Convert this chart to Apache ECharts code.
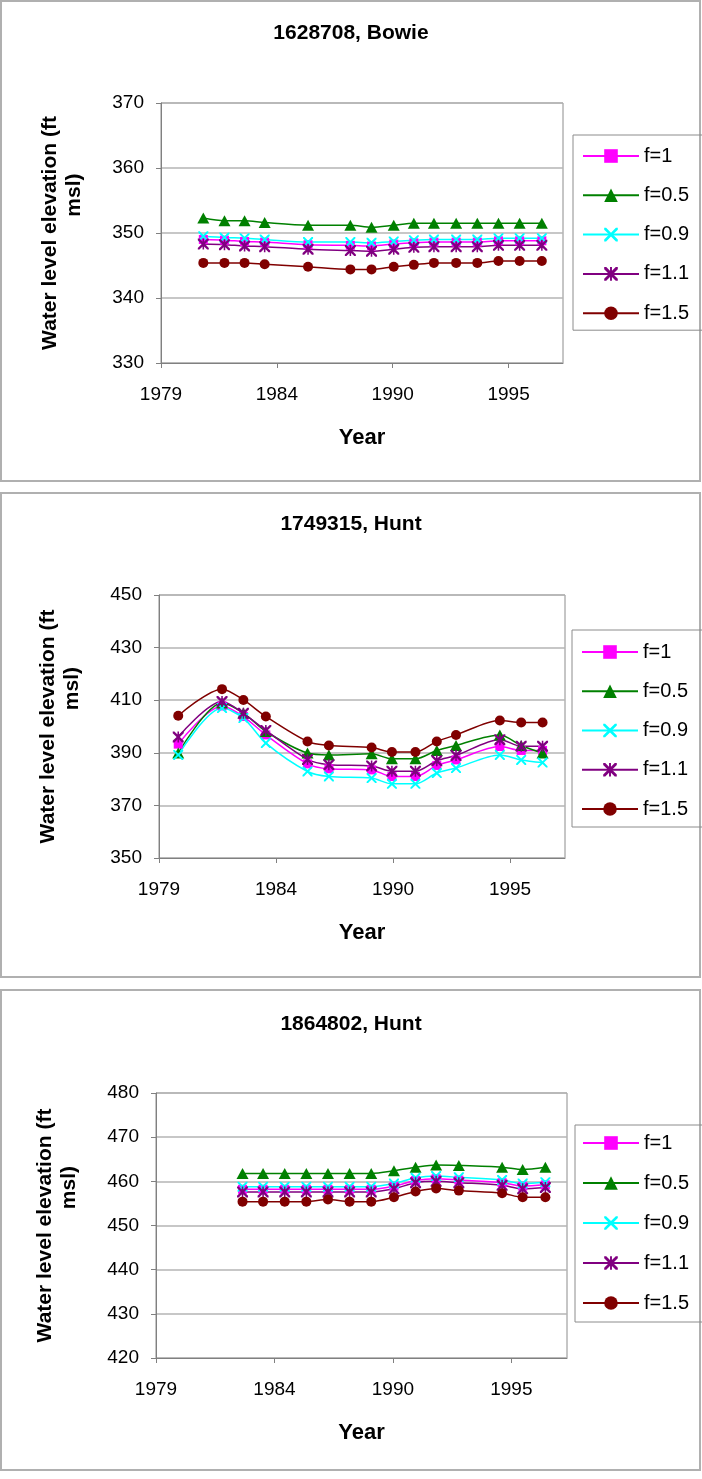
<!DOCTYPE html>
<html><head><meta charset="utf-8">
<script src="https://cdn.jsdelivr.net/npm/echarts@6.0.0/dist/echarts.min.js"></script>
<style>html,body{margin:0;padding:0;background:#fff}#c{width:702px;height:1479px}</style>
</head><body><div id="c"></div>
<script>
// ---------- data ----------
const seriesNames = ['f=1', 'f=0.5', 'f=0.9', 'f=1.1', 'f=1.5'];
const tickYears = [1979.5, 1984.976, 1990.452, 1995.927];
const tickLabels = ['1979', '1984', '1990', '1995'];
const xTitle = 'Year';
const yTitle = 'Water level elevation (ft';
const yTitle2 = 'msl)';

// Chart 1: 1628708, Bowie
const title1 = '1628708, Bowie';
const years1 = [1981.5, 1982.5, 1983.45, 1984.4, 1986.45, 1988.45, 1989.45, 1990.5, 1991.45, 1992.4, 1993.45, 1994.45, 1995.45, 1996.45, 1997.5];
const c1_f1  = [349.0, 348.9, 348.7, 348.6, 348.2, 348.1, 348.0, 348.3, 348.5, 348.6, 348.6, 348.6, 348.8, 348.8, 348.8];
const c1_f05 = [352.3, 351.9, 351.9, 351.6, 351.2, 351.2, 350.9, 351.2, 351.5, 351.5, 351.5, 351.5, 351.5, 351.5, 351.5];
const c1_f09 = [349.5, 349.3, 349.2, 349.0, 348.6, 348.6, 348.5, 348.7, 348.9, 349.0, 349.0, 349.0, 349.2, 349.2, 349.2];
const c1_f11 = [348.3, 348.2, 348.0, 347.9, 347.5, 347.3, 347.2, 347.5, 347.8, 347.9, 347.9, 347.9, 348.1, 348.1, 348.1];
const c1_f15 = [345.4, 345.4, 345.4, 345.2, 344.8, 344.4, 344.4, 344.8, 345.1, 345.4, 345.4, 345.4, 345.7, 345.7, 345.7];

// Chart 2: 1749315, Hunt
const title2 = '1749315, Hunt';
const years2 = [1980.4, 1982.45, 1983.45, 1984.5, 1986.45, 1987.45, 1989.45, 1990.4, 1991.5, 1992.5, 1993.4, 1995.45, 1996.45, 1997.45];
const c2_f1  = [393.3, 407.8, 403.8, 396.8, 385.8, 383.9, 383.5, 381.0, 381.0, 385.2, 387.3, 392.4, 390.9, 390.9];
const c2_f05 = [389.9, 408.9, 405.1, 398.1, 389.9, 389.2, 389.6, 387.7, 387.7, 390.9, 392.8, 396.8, 392.8, 389.9];
const c2_f09 = [389.2, 407.0, 403.2, 393.7, 382.9, 381.0, 380.4, 378.2, 378.2, 382.3, 384.2, 389.2, 387.3, 386.3];
const c2_f11 = [396.0, 409.5, 405.0, 398.5, 387.5, 385.5, 385.0, 383.0, 383.0, 387.0, 389.0, 395.0, 392.5, 392.5];
const c2_f15 = [404.1, 414.2, 410.1, 403.8, 394.3, 392.8, 392.0, 390.3, 390.3, 394.3, 396.8, 402.3, 401.5, 401.5];

// Chart 3: 1864802, Hunt
const title3 = '1864802, Hunt';
const years3 = [1983.5, 1984.45, 1985.45, 1986.45, 1987.45, 1988.45, 1989.45, 1990.5, 1991.5, 1992.45, 1993.5, 1995.5, 1996.45, 1997.5];
const c3_f1  = [458.2, 458.2, 458.2, 458.2, 458.2, 458.2, 458.2, 458.9, 460.2, 460.6, 460.3, 459.7, 458.9, 459.2];
const c3_f05 = [461.8, 461.8, 461.8, 461.8, 461.8, 461.8, 461.8, 462.4, 463.2, 463.7, 463.6, 463.2, 462.7, 463.2];
const c3_f09 = [458.8, 458.8, 458.8, 458.8, 458.8, 458.8, 458.8, 459.5, 460.8, 461.2, 460.9, 460.3, 459.5, 459.8];
const c3_f11 = [457.6, 457.6, 457.6, 457.6, 457.6, 457.6, 457.6, 458.3, 459.7, 460.0, 459.7, 459.1, 458.3, 458.6];
const c3_f15 = [455.4, 455.4, 455.4, 455.4, 455.9, 455.4, 455.4, 456.4, 457.7, 458.4, 457.9, 457.3, 456.4, 456.4];

const yRanges = [[330, 370, 10], [350, 450, 20], [420, 480, 10]];
const xRange = [1979.5, 1998.5];

// ---------- styles / layout ----------
const FONT = '"Liberation Sans", Arial, sans-serif';
const X_PATH = 'path://M0,0 L1.4,0 L5,3.6 L8.6,0 L10,0 L10,1.4 L6.4,5 L10,8.6 L10,10 L8.6,10 L5,6.4 L1.4,10 L0,10 L0,8.6 L3.6,5 L0,1.4 Z';
const STAR_PATH = 'path://M0,0 L1.5,0 L5,3.5 L8.5,0 L10,0 L10,1.5 L6.5,5 L10,8.5 L10,10 L8.5,10 L5,6.5 L1.5,10 L0,10 L0,8.5 L3.5,5 L0,1.5 Z M4.3,0 L5.7,0 L5.7,10 L4.3,10 Z';
const styles = [
  {color: '#FF00FF', symbol: 'rect', size: 9},
  {color: '#008000', symbol: 'triangle', size: [12, 11]},
  {color: '#00FFFF', symbol: X_PATH, size: 10},
  {color: '#800080', symbol: STAR_PATH, size: 11},
  {color: '#800000', symbol: 'circle', size: 10}
];
const grids = [
  {left: 161, top: 103, width: 402, height: 260},
  {left: 159, top: 595, width: 406, height: 263},
  {left: 156, top: 1093, width: 411, height: 265}
];
const titleTops = [18, 509, 1009];
const legendPos = [
  {left: 573, top: 135, gap: 19.3, padding: [11, 40, 7, 9]},
  {left: 572, top: 630, gap: 19.25, padding: [12, 40, 8, 9]},
  {left: 575, top: 1125, gap: 20, padding: [8, 40, 9, 7]}
];
const panels = [[1, 1, 699, 480], [1, 493, 699, 484], [1, 990, 699, 480]];

const chartData = [
  {title: title1, years: years1, vals: [c1_f1, c1_f05, c1_f09, c1_f11, c1_f15]},
  {title: title2, years: years2, vals: [c2_f1, c2_f05, c2_f09, c2_f11, c2_f15]},
  {title: title3, years: years3, vals: [c3_f1, c3_f05, c3_f09, c3_f11, c3_f15]}
];

const option = {
  backgroundColor: '#fff',
  animation: false,
  textStyle: {fontFamily: FONT},
  title: [], grid: [], xAxis: [], yAxis: [], legend: [], series: [],
  graphic: panels.map(p => ({
    type: 'rect', z: -10, silent: true,
    shape: {x: p[0], y: p[1], width: p[2], height: p[3]},
    style: {fill: 'none', stroke: '#b0b0b0', lineWidth: 2}
  }))
};

chartData.forEach((cd, k) => {
  option.title.push({
    text: cd.title, left: 'center', top: titleTops[k],
    textStyle: {fontFamily: FONT, fontSize: 21, fontWeight: 'bold', color: '#000'}
  });
  option.grid.push(Object.assign({show: true, borderColor: '#8c8c8c', borderWidth: 1, backgroundColor: 'transparent'}, grids[k]));
  option.xAxis.push({
    type: 'value', gridIndex: k, min: xRange[0], max: xRange[1],
    name: xTitle, nameLocation: 'middle', nameGap: 64,
    nameTextStyle: {fontFamily: FONT, fontSize: 22, fontWeight: 'bold', color: '#000'},
    axisLine: {show: true, lineStyle: {color: '#808080', width: 1}},
    axisTick: {show: true, length: 5, lineStyle: {color: '#808080'}, customValues: tickYears},
    axisLabel: {
      show: true, margin: 22, fontFamily: FONT, fontSize: 19, color: '#000',
      customValues: tickYears,
      formatter: (v) => tickLabels[tickYears.findIndex(t => Math.abs(t - v) < 0.01)] || ''
    },
    splitLine: {show: false}
  });
  option.yAxis.push({
    type: 'value', gridIndex: k, min: yRanges[k][0], max: yRanges[k][1], interval: yRanges[k][2],
    name: yTitle + '\n' + '             ' + yTitle2, nameLocation: 'middle', nameGap: 75, nameRotate: 90,
    nameTextStyle: {fontFamily: FONT, fontSize: 21, fontWeight: 'bold', color: '#000', lineHeight: 24},
    axisLine: {show: true, lineStyle: {color: '#808080', width: 1}},
    axisTick: {show: true, length: 5, lineStyle: {color: '#808080'}},
    axisLabel: {margin: 17, fontFamily: FONT, fontSize: 19, color: '#000'},
    splitLine: {show: true, lineStyle: {color: '#b4b4b4', width: 1.5}}
  });
  const lp = legendPos[k];
  option.legend.push({
    orient: 'vertical', left: lp.left, top: lp.top, data: seriesNames,
    itemWidth: 56, itemHeight: 17, itemGap: lp.gap, padding: lp.padding,
    borderColor: '#8c8c8c', borderWidth: 1, selectedMode: false,
    textStyle: {fontFamily: FONT, fontSize: 20, lineHeight: 20, color: '#000'}
  });
  seriesNames.forEach((nm, j) => {
    const st = styles[j];
    option.series.push({
      type: 'line', name: nm, xAxisIndex: k, yAxisIndex: k,
      data: cd.years.map((x, i) => [x, cd.vals[j][i]]),
      smooth: 0.3, symbol: st.symbol, symbolSize: st.size, showSymbol: true,
      lineStyle: {color: st.color, width: 1.5},
      itemStyle: {color: st.color},
      emphasis: {disabled: true}
    });
  });
});

const chart = echarts.init(document.getElementById('c'), null, {renderer: 'canvas'});
chart.setOption(option);
</script>
</body></html>
